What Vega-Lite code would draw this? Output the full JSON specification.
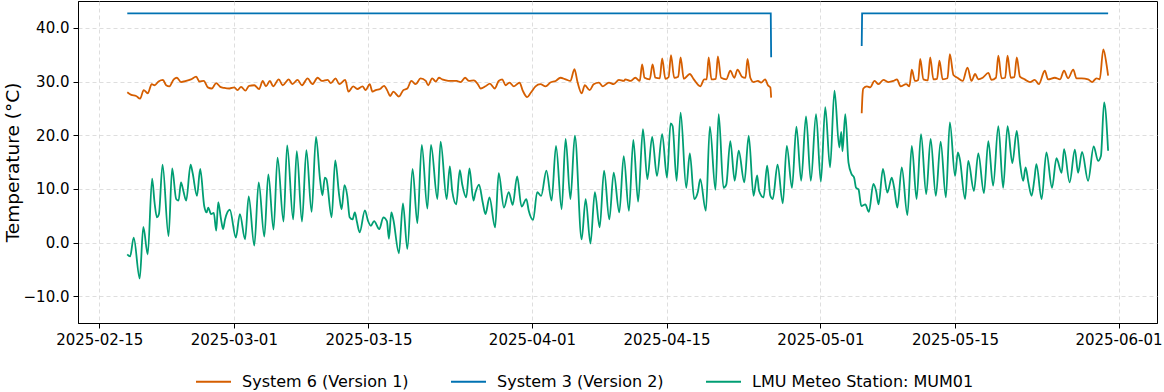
{
  "$schema": "https://vega.github.io/schema/vega-lite/v6.json",
  "width": 1079,
  "height": 322,
  "autosize": {"type": "none"},
  "padding": {"left": 78, "top": 1, "right": 7, "bottom": 69},
  "background": "white",
  "config": {
    "font": "DejaVu Sans",
    "view": {"stroke": "black", "strokeWidth": 1},
    "axis": {
      "domainColor": "black", "tickColor": "black", "labelColor": "black", "titleColor": "black",
      "gridColor": "#d6d6d6", "gridDash": [4, 3], "gridWidth": 0.8, "tickSize": 5,
      "labelFont": "DejaVu Sans", "titleFont": "DejaVu Sans", "titleFontWeight": "normal"
    }
  },
  "datasets": {
    "s6": [
      {"t":"2025-02-17T22:00","v":28.0},{"t":"2025-02-18T08:00","v":27.5},{"t":"2025-02-18T20:00","v":27.3},{"t":"2025-02-19T06:00","v":26.8},
      {"t":"2025-02-19T15:00","v":28.4},{"t":"2025-02-20T01:00","v":27.8},{"t":"2025-02-20T11:00","v":29.5},{"t":"2025-02-20T18:00","v":29.3},
      {"t":"2025-02-21T04:00","v":30.0},{"t":"2025-02-21T15:00","v":30.3},{"t":"2025-02-21T23:00","v":29.3},{"t":"2025-02-22T07:00","v":29.1},
      {"t":"2025-02-22T18:00","v":30.4},{"t":"2025-02-23T02:00","v":30.7},{"t":"2025-02-23T12:00","v":29.9},{"t":"2025-02-24T01:00","v":30.1},
      {"t":"2025-02-24T13:00","v":30.4},{"t":"2025-02-25T02:00","v":30.9},{"t":"2025-02-25T10:00","v":30.0},{"t":"2025-02-25T21:00","v":30.1},
      {"t":"2025-02-26T07:00","v":28.9},{"t":"2025-02-26T17:00","v":28.7},{"t":"2025-02-27T04:00","v":29.7},{"t":"2025-02-27T14:00","v":29.0},
      {"t":"2025-02-28T00:00","v":28.8},{"t":"2025-02-28T13:00","v":28.7},{"t":"2025-03-01T01:00","v":28.9},{"t":"2025-03-01T09:00","v":28.4},
      {"t":"2025-03-01T18:00","v":29.0},{"t":"2025-03-02T05:00","v":28.3},{"t":"2025-03-02T14:00","v":29.2},{"t":"2025-03-03T03:00","v":29.3},
      {"t":"2025-03-03T15:00","v":28.6},{"t":"2025-03-04T00:00","v":30.1},{"t":"2025-03-04T08:00","v":29.1},{"t":"2025-03-04T18:00","v":30.1},
      {"t":"2025-03-05T02:00","v":29.1},{"t":"2025-03-05T16:00","v":30.4},{"t":"2025-03-06T02:00","v":29.3},{"t":"2025-03-06T17:00","v":30.4},
      {"t":"2025-03-07T02:00","v":29.5},{"t":"2025-03-07T15:00","v":30.3},{"t":"2025-03-08T02:00","v":29.3},{"t":"2025-03-08T16:00","v":30.6},
      {"t":"2025-03-09T04:00","v":29.5},{"t":"2025-03-09T17:00","v":30.7},{"t":"2025-03-10T04:00","v":30.1},{"t":"2025-03-10T18:00","v":30.3},
      {"t":"2025-03-11T02:00","v":29.7},{"t":"2025-03-11T14:00","v":30.6},{"t":"2025-03-11T23:00","v":29.5},{"t":"2025-03-12T14:00","v":30.3},
      {"t":"2025-03-12T22:00","v":28.1},{"t":"2025-03-13T10:00","v":29.1},{"t":"2025-03-13T20:00","v":28.6},{"t":"2025-03-14T09:00","v":29.1},
      {"t":"2025-03-14T17:00","v":28.4},{"t":"2025-03-15T03:00","v":29.5},{"t":"2025-03-15T10:00","v":28.1},{"t":"2025-03-15T18:00","v":28.4},
      {"t":"2025-03-16T05:00","v":28.6},{"t":"2025-03-16T15:00","v":29.2},{"t":"2025-03-16T23:00","v":28.3},{"t":"2025-03-17T06:00","v":27.3},
      {"t":"2025-03-17T14:00","v":28.1},{"t":"2025-03-18T04:00","v":27.2},{"t":"2025-03-18T15:00","v":28.4},{"t":"2025-03-19T01:00","v":28.7},
      {"t":"2025-03-19T11:00","v":30.1},{"t":"2025-03-19T22:00","v":29.5},{"t":"2025-03-20T10:00","v":30.6},{"t":"2025-03-20T23:00","v":30.1},
      {"t":"2025-03-21T05:00","v":29.3},{"t":"2025-03-21T15:00","v":30.6},{"t":"2025-03-22T00:00","v":30.0},{"t":"2025-03-22T08:00","v":30.7},
      {"t":"2025-03-22T16:00","v":30.4},{"t":"2025-03-23T01:00","v":30.2},{"t":"2025-03-23T13:00","v":30.1},{"t":"2025-03-24T04:00","v":30.1},
      {"t":"2025-03-24T14:00","v":29.9},{"t":"2025-03-25T01:00","v":30.7},{"t":"2025-03-25T11:00","v":30.1},{"t":"2025-03-25T23:00","v":30.2},
      {"t":"2025-03-26T09:00","v":29.5},{"t":"2025-03-26T16:00","v":28.7},{"t":"2025-03-27T04:00","v":29.1},{"t":"2025-03-27T15:00","v":29.6},
      {"t":"2025-03-28T03:00","v":28.7},{"t":"2025-03-28T13:00","v":30.1},{"t":"2025-03-28T22:00","v":30.4},{"t":"2025-03-29T06:00","v":29.3},
      {"t":"2025-03-29T16:00","v":29.8},{"t":"2025-03-30T03:00","v":29.1},{"t":"2025-03-30T17:00","v":29.8},{"t":"2025-03-31T01:00","v":28.3},
      {"t":"2025-03-31T12:00","v":27.1},{"t":"2025-03-31T21:00","v":27.9},{"t":"2025-04-01T09:00","v":29.1},{"t":"2025-04-01T21:00","v":29.5},
      {"t":"2025-04-02T10:00","v":29.1},{"t":"2025-04-02T22:00","v":29.8},{"t":"2025-04-03T11:00","v":30.1},{"t":"2025-04-03T23:00","v":30.7},
      {"t":"2025-04-04T12:00","v":30.4},{"t":"2025-04-05T00:00","v":30.1},{"t":"2025-04-05T10:00","v":32.3},{"t":"2025-04-05T18:00","v":29.8},
      {"t":"2025-04-06T04:00","v":27.8},{"t":"2025-04-06T12:00","v":29.3},{"t":"2025-04-07T00:00","v":28.4},{"t":"2025-04-07T10:00","v":29.5},
      {"t":"2025-04-07T23:00","v":29.8},{"t":"2025-04-08T09:00","v":29.1},{"t":"2025-04-09T00:00","v":29.8},{"t":"2025-04-09T12:00","v":29.5},
      {"t":"2025-04-10T01:00","v":30.3},{"t":"2025-04-10T13:00","v":30.1},{"t":"2025-04-10T17:00","v":30.4},{"t":"2025-04-11T06:00","v":30.1},
      {"t":"2025-04-11T18:00","v":30.7},{"t":"2025-04-12T05:00","v":30.1},{"t":"2025-04-12T11:00","v":33.2},{"t":"2025-04-12T17:00","v":30.7},
      {"t":"2025-04-13T06:00","v":30.4},{"t":"2025-04-13T13:00","v":33.2},{"t":"2025-04-13T20:00","v":30.7},{"t":"2025-04-14T07:00","v":30.6},
      {"t":"2025-04-14T13:00","v":34.3},{"t":"2025-04-14T21:00","v":30.5},{"t":"2025-04-15T05:00","v":30.8},{"t":"2025-04-15T11:00","v":34.9},
      {"t":"2025-04-15T19:00","v":30.7},{"t":"2025-04-16T05:00","v":30.9},{"t":"2025-04-16T11:00","v":34.5},{"t":"2025-04-16T19:00","v":30.5},
      {"t":"2025-04-17T10:00","v":31.4},{"t":"2025-04-17T20:00","v":30.4},{"t":"2025-04-18T12:00","v":29.1},{"t":"2025-04-18T22:00","v":30.4},
      {"t":"2025-04-19T04:00","v":30.4},{"t":"2025-04-19T09:00","v":34.5},{"t":"2025-04-19T16:00","v":30.4},{"t":"2025-04-20T03:00","v":30.5},
      {"t":"2025-04-20T08:00","v":34.7},{"t":"2025-04-20T16:00","v":30.7},{"t":"2025-04-21T05:00","v":30.4},{"t":"2025-04-21T15:00","v":32.0},
      {"t":"2025-04-22T01:00","v":30.7},{"t":"2025-04-22T09:00","v":32.2},{"t":"2025-04-22T20:00","v":30.9},{"t":"2025-04-23T05:00","v":30.7},
      {"t":"2025-04-23T10:00","v":34.2},{"t":"2025-04-23T17:00","v":30.7},{"t":"2025-04-24T01:00","v":29.9},{"t":"2025-04-24T12:00","v":30.1},
      {"t":"2025-04-24T20:00","v":29.8},{"t":"2025-04-25T06:00","v":30.4},{"t":"2025-04-25T13:00","v":29.3},{"t":"2025-04-25T19:00","v":28.9},
      {"t":"2025-04-25T21:00","v":27.0},{"t":"2025-04-30T00:00","v":null},
      {"t":"2025-05-05T07:00","v":24.1},{"t":"2025-05-05T09:00","v":27.5},{"t":"2025-05-05T11:00","v":28.7},{"t":"2025-05-05T20:00","v":29.1},
      {"t":"2025-05-06T04:00","v":28.9},{"t":"2025-05-06T15:00","v":30.1},{"t":"2025-05-07T01:00","v":29.5},{"t":"2025-05-07T13:00","v":30.3},
      {"t":"2025-05-08T02:00","v":29.9},{"t":"2025-05-08T14:00","v":30.1},{"t":"2025-05-08T23:00","v":30.4},{"t":"2025-05-09T08:00","v":29.1},
      {"t":"2025-05-09T22:00","v":29.5},{"t":"2025-05-10T06:00","v":29.1},{"t":"2025-05-10T12:00","v":32.2},{"t":"2025-05-10T20:00","v":30.1},
      {"t":"2025-05-11T04:00","v":30.3},{"t":"2025-05-11T09:00","v":34.2},{"t":"2025-05-11T17:00","v":30.4},{"t":"2025-05-12T04:00","v":30.2},
      {"t":"2025-05-12T10:00","v":34.5},{"t":"2025-05-12T18:00","v":30.4},{"t":"2025-05-13T03:00","v":30.5},{"t":"2025-05-13T09:00","v":33.9},
      {"t":"2025-05-13T17:00","v":30.4},{"t":"2025-05-14T05:00","v":30.6},{"t":"2025-05-14T11:00","v":35.1},{"t":"2025-05-14T20:00","v":31.2},
      {"t":"2025-05-15T06:00","v":30.7},{"t":"2025-05-15T19:00","v":30.1},{"t":"2025-05-16T07:00","v":32.6},{"t":"2025-05-16T17:00","v":30.1},
      {"t":"2025-05-17T02:00","v":31.4},{"t":"2025-05-17T10:00","v":30.4},{"t":"2025-05-17T21:00","v":30.7},{"t":"2025-05-18T11:00","v":31.6},
      {"t":"2025-05-18T19:00","v":30.3},{"t":"2025-05-19T06:00","v":30.7},{"t":"2025-05-19T12:00","v":34.8},{"t":"2025-05-19T20:00","v":30.6},
      {"t":"2025-05-20T05:00","v":30.7},{"t":"2025-05-20T11:00","v":34.8},{"t":"2025-05-20T19:00","v":30.7},{"t":"2025-05-21T04:00","v":30.8},
      {"t":"2025-05-21T10:00","v":34.5},{"t":"2025-05-21T18:00","v":30.9},{"t":"2025-05-22T06:00","v":30.4},{"t":"2025-05-22T19:00","v":29.9},
      {"t":"2025-05-23T07:00","v":30.3},{"t":"2025-05-23T17:00","v":29.5},{"t":"2025-05-24T08:00","v":32.0},{"t":"2025-05-24T16:00","v":30.4},
      {"t":"2025-05-25T09:00","v":30.7},{"t":"2025-05-25T22:00","v":30.4},{"t":"2025-05-26T08:00","v":32.0},{"t":"2025-05-26T18:00","v":30.6},
      {"t":"2025-05-27T07:00","v":32.2},{"t":"2025-05-27T15:00","v":30.6},{"t":"2025-05-28T04:00","v":30.6},{"t":"2025-05-28T20:00","v":30.4},
      {"t":"2025-05-29T06:00","v":29.9},{"t":"2025-05-29T17:00","v":30.6},{"t":"2025-05-30T01:00","v":30.4},{"t":"2025-05-30T10:00","v":36.0},
      {"t":"2025-05-30T18:00","v":33.2},{"t":"2025-05-30T22:00","v":31.1}
    ],
    "s3": [
      {"t":"2025-02-17T22:00","v":42.7},{"t":"2025-04-25T20:00","v":42.7},{"t":"2025-04-25T21:00","v":34.5},
      {"t":"2025-04-30T00:00","v":null},
      {"t":"2025-05-05T07:00","v":36.6},{"t":"2025-05-05T08:00","v":42.7},{"t":"2025-05-30T22:00","v":42.7}
    ],
    "mum": [
      {"t":"2025-02-17T22:00","v":-2.2},{"t":"2025-02-18T05:00","v":-2.6},{"t":"2025-02-18T14:00","v":0.9},{"t":"2025-02-19T05:00","v":-6.7},
      {"t":"2025-02-19T14:00","v":2.9},{"t":"2025-02-20T01:00","v":-2.2},{"t":"2025-02-20T12:00","v":11.9},{"t":"2025-02-20T18:00","v":7.5},
      {"t":"2025-02-21T00:00","v":4.7},{"t":"2025-02-21T05:00","v":5.3},{"t":"2025-02-21T14:00","v":14.5},{"t":"2025-02-22T05:00","v":1.2},
      {"t":"2025-02-22T14:00","v":13.8},{"t":"2025-02-23T00:00","v":8.1},{"t":"2025-02-23T06:00","v":7.8},{"t":"2025-02-23T12:00","v":11.2},
      {"t":"2025-02-23T18:00","v":9.6},{"t":"2025-02-24T01:00","v":7.8},{"t":"2025-02-24T12:00","v":14.5},{"t":"2025-02-24T17:00","v":13.0},
      {"t":"2025-02-25T04:00","v":8.7},{"t":"2025-02-25T12:00","v":13.7},{"t":"2025-02-25T22:00","v":6.8},{"t":"2025-02-26T04:00","v":5.6},
      {"t":"2025-02-26T08:00","v":6.5},{"t":"2025-02-26T15:00","v":5.3},{"t":"2025-02-26T22:00","v":5.5},{"t":"2025-02-27T04:00","v":2.2},
      {"t":"2025-02-27T09:00","v":7.5},{"t":"2025-02-27T16:00","v":4.3},{"t":"2025-02-27T21:00","v":2.5},{"t":"2025-02-28T02:00","v":4.3},
      {"t":"2025-02-28T14:00","v":6.1},{"t":"2025-03-01T05:00","v":0.9},{"t":"2025-03-01T15:00","v":5.3},{"t":"2025-03-02T04:00","v":0.6},
      {"t":"2025-03-02T13:00","v":8.6},{"t":"2025-03-03T03:00","v":-0.6},{"t":"2025-03-03T14:00","v":11.2},{"t":"2025-03-04T04:00","v":1.1},
      {"t":"2025-03-04T14:00","v":12.7},{"t":"2025-03-05T03:00","v":2.4},{"t":"2025-03-05T13:00","v":15.8},{"t":"2025-03-06T04:00","v":3.9},
      {"t":"2025-03-06T13:00","v":18.1},{"t":"2025-03-07T04:00","v":4.3},{"t":"2025-03-07T13:00","v":17.0},{"t":"2025-03-08T02:00","v":3.9},
      {"t":"2025-03-08T13:00","v":17.2},{"t":"2025-03-09T02:00","v":5.7},{"t":"2025-03-09T13:00","v":19.7},{"t":"2025-03-09T23:00","v":11.8},
      {"t":"2025-03-10T05:00","v":8.8},{"t":"2025-03-10T11:00","v":12.1},{"t":"2025-03-10T15:00","v":11.8},{"t":"2025-03-11T04:00","v":4.7},
      {"t":"2025-03-11T13:00","v":15.3},{"t":"2025-03-11T23:00","v":8.7},{"t":"2025-03-12T05:00","v":6.2},{"t":"2025-03-12T12:00","v":10.7},
      {"t":"2025-03-12T19:00","v":8.7},{"t":"2025-03-13T01:00","v":4.7},{"t":"2025-03-13T08:00","v":4.3},{"t":"2025-03-13T14:00","v":5.6},
      {"t":"2025-03-13T19:00","v":3.9},{"t":"2025-03-14T02:00","v":1.9},{"t":"2025-03-14T15:00","v":6.0},{"t":"2025-03-14T23:00","v":4.0},
      {"t":"2025-03-15T06:00","v":3.1},{"t":"2025-03-15T14:00","v":4.0},{"t":"2025-03-16T03:00","v":2.5},{"t":"2025-03-16T13:00","v":4.7},
      {"t":"2025-03-16T22:00","v":4.0},{"t":"2025-03-17T03:00","v":0.7},{"t":"2025-03-17T09:00","v":5.6},{"t":"2025-03-17T14:00","v":4.3},
      {"t":"2025-03-18T04:00","v":-2.0},{"t":"2025-03-18T14:00","v":7.3},{"t":"2025-03-19T01:00","v":-1.2},{"t":"2025-03-19T14:00","v":13.7},
      {"t":"2025-03-20T02:00","v":3.6},{"t":"2025-03-20T13:00","v":18.2},{"t":"2025-03-21T03:00","v":6.3},{"t":"2025-03-21T12:00","v":18.2},
      {"t":"2025-03-22T04:00","v":8.1},{"t":"2025-03-22T12:00","v":18.8},{"t":"2025-03-23T03:00","v":8.1},{"t":"2025-03-23T11:00","v":14.2},
      {"t":"2025-03-23T17:00","v":9.6},{"t":"2025-03-24T03:00","v":7.1},{"t":"2025-03-24T12:00","v":13.5},{"t":"2025-03-24T18:00","v":10.8},
      {"t":"2025-03-25T04:00","v":8.4},{"t":"2025-03-25T12:00","v":13.8},{"t":"2025-03-25T22:00","v":7.8},{"t":"2025-03-26T03:00","v":9.3},
      {"t":"2025-03-26T12:00","v":10.8},{"t":"2025-03-26T21:00","v":7.5},{"t":"2025-03-27T04:00","v":5.3},{"t":"2025-03-27T14:00","v":8.4},
      {"t":"2025-03-28T04:00","v":2.8},{"t":"2025-03-28T13:00","v":12.9},{"t":"2025-03-29T02:00","v":6.5},{"t":"2025-03-29T14:00","v":9.4},
      {"t":"2025-03-30T00:00","v":7.0},{"t":"2025-03-30T11:00","v":12.3},{"t":"2025-03-30T22:00","v":6.7},{"t":"2025-03-31T10:00","v":8.1},
      {"t":"2025-03-31T16:00","v":5.9},{"t":"2025-04-01T03:00","v":4.2},{"t":"2025-04-01T13:00","v":9.4},{"t":"2025-04-01T23:00","v":8.7},
      {"t":"2025-04-02T12:00","v":13.4},{"t":"2025-04-03T01:00","v":7.8},{"t":"2025-04-03T12:00","v":18.0},{"t":"2025-04-04T02:00","v":6.2},
      {"t":"2025-04-04T12:00","v":19.3},{"t":"2025-04-05T00:00","v":8.1},{"t":"2025-04-05T11:00","v":19.9},{"t":"2025-04-06T04:00","v":0.6},
      {"t":"2025-04-06T14:00","v":8.1},{"t":"2025-04-07T02:00","v":-0.2},{"t":"2025-04-07T13:00","v":9.4},{"t":"2025-04-08T01:00","v":2.8},
      {"t":"2025-04-08T12:00","v":13.4},{"t":"2025-04-09T01:00","v":4.3},{"t":"2025-04-09T12:00","v":13.0},{"t":"2025-04-10T02:00","v":5.6},
      {"t":"2025-04-10T13:00","v":16.1},{"t":"2025-04-11T02:00","v":5.9},{"t":"2025-04-11T13:00","v":19.1},{"t":"2025-04-12T01:00","v":7.6},
      {"t":"2025-04-12T13:00","v":21.1},{"t":"2025-04-13T00:00","v":11.8},{"t":"2025-04-13T12:00","v":19.7},{"t":"2025-04-14T00:00","v":12.4},
      {"t":"2025-04-14T13:00","v":20.2},{"t":"2025-04-15T01:00","v":12.1},{"t":"2025-04-15T10:00","v":22.2},{"t":"2025-04-15T15:00","v":21.7},
      {"t":"2025-04-16T01:00","v":11.5},{"t":"2025-04-16T11:00","v":24.2},{"t":"2025-04-17T01:00","v":10.2},{"t":"2025-04-17T10:00","v":16.6},
      {"t":"2025-04-17T21:00","v":8.1},{"t":"2025-04-18T06:00","v":9.4},{"t":"2025-04-18T12:00","v":11.8},{"t":"2025-04-19T02:00","v":5.9},
      {"t":"2025-04-19T12:00","v":21.6},{"t":"2025-04-20T02:00","v":9.8},{"t":"2025-04-20T10:00","v":23.9},{"t":"2025-04-20T22:00","v":10.2},
      {"t":"2025-04-21T05:00","v":10.8},{"t":"2025-04-21T15:00","v":18.9},{"t":"2025-04-22T02:00","v":11.5},{"t":"2025-04-22T12:00","v":17.1},
      {"t":"2025-04-23T02:00","v":11.2},{"t":"2025-04-23T13:00","v":19.9},{"t":"2025-04-24T01:00","v":8.7},{"t":"2025-04-24T10:00","v":12.5},
      {"t":"2025-04-24T15:00","v":9.6},{"t":"2025-04-25T02:00","v":8.4},{"t":"2025-04-25T11:00","v":14.3},{"t":"2025-04-25T19:00","v":8.7},
      {"t":"2025-04-26T01:00","v":8.1},{"t":"2025-04-26T13:00","v":14.5},{"t":"2025-04-27T02:00","v":7.3},{"t":"2025-04-27T12:00","v":18.0},
      {"t":"2025-04-28T01:00","v":10.2},{"t":"2025-04-28T12:00","v":21.6},{"t":"2025-04-29T00:00","v":11.5},{"t":"2025-04-29T12:00","v":23.5},
      {"t":"2025-04-30T00:00","v":11.5},{"t":"2025-04-30T13:00","v":23.9},{"t":"2025-05-01T01:00","v":11.3},{"t":"2025-05-01T12:00","v":25.2},
      {"t":"2025-05-02T00:00","v":14.0},{"t":"2025-05-02T11:00","v":28.3},{"t":"2025-05-02T23:00","v":17.7},{"t":"2025-05-03T04:00","v":20.6},
      {"t":"2025-05-03T07:00","v":17.0},{"t":"2025-05-03T14:00","v":23.9},{"t":"2025-05-03T22:00","v":14.9},{"t":"2025-05-04T06:00","v":12.7},
      {"t":"2025-05-04T12:00","v":12.1},{"t":"2025-05-04T17:00","v":10.2},{"t":"2025-05-04T23:00","v":9.9},{"t":"2025-05-05T06:00","v":6.8},
      {"t":"2025-05-05T16:00","v":7.1},{"t":"2025-05-06T01:00","v":5.7},{"t":"2025-05-06T12:00","v":10.9},{"t":"2025-05-06T19:00","v":9.6},
      {"t":"2025-05-07T01:00","v":7.1},{"t":"2025-05-07T12:00","v":13.7},{"t":"2025-05-07T23:00","v":9.3},{"t":"2025-05-08T10:00","v":12.1},
      {"t":"2025-05-08T16:00","v":10.2},{"t":"2025-05-09T00:00","v":6.5},{"t":"2025-05-09T11:00","v":14.0},{"t":"2025-05-10T01:00","v":5.1},
      {"t":"2025-05-10T12:00","v":18.0},{"t":"2025-05-11T00:00","v":8.1},{"t":"2025-05-11T11:00","v":20.2},{"t":"2025-05-12T00:00","v":9.0},
      {"t":"2025-05-12T11:00","v":19.3},{"t":"2025-05-13T00:00","v":8.7},{"t":"2025-05-13T12:00","v":18.8},{"t":"2025-05-14T01:00","v":8.4},
      {"t":"2025-05-14T11:00","v":22.4},{"t":"2025-05-15T00:00","v":12.4},{"t":"2025-05-15T07:00","v":16.8},{"t":"2025-05-15T12:00","v":15.5},
      {"t":"2025-05-16T01:00","v":8.1},{"t":"2025-05-16T09:00","v":15.2},{"t":"2025-05-16T23:00","v":9.6},{"t":"2025-05-17T10:00","v":16.6},
      {"t":"2025-05-18T00:00","v":9.2},{"t":"2025-05-18T11:00","v":18.9},{"t":"2025-05-18T23:00","v":10.6},{"t":"2025-05-19T12:00","v":21.7},
      {"t":"2025-05-20T00:00","v":10.2},{"t":"2025-05-20T11:00","v":21.7},{"t":"2025-05-20T23:00","v":14.8},{"t":"2025-05-21T10:00","v":20.8},
      {"t":"2025-05-21T18:00","v":14.9},{"t":"2025-05-22T02:00","v":11.5},{"t":"2025-05-22T08:00","v":14.0},{"t":"2025-05-22T15:00","v":11.2},
      {"t":"2025-05-22T23:00","v":8.7},{"t":"2025-05-23T06:00","v":11.8},{"t":"2025-05-23T11:00","v":14.6},{"t":"2025-05-24T00:00","v":8.1},
      {"t":"2025-05-24T12:00","v":16.8},{"t":"2025-05-25T02:00","v":10.2},{"t":"2025-05-25T13:00","v":15.7},{"t":"2025-05-26T02:00","v":13.0},
      {"t":"2025-05-26T08:00","v":17.4},{"t":"2025-05-26T22:00","v":11.2},{"t":"2025-05-27T11:00","v":17.3},{"t":"2025-05-27T19:00","v":13.0},
      {"t":"2025-05-28T05:00","v":16.9},{"t":"2025-05-28T20:00","v":11.5},{"t":"2025-05-29T10:00","v":17.9},{"t":"2025-05-29T21:00","v":15.2},
      {"t":"2025-05-30T04:00","v":16.1},{"t":"2025-05-30T12:00","v":26.1},{"t":"2025-05-30T22:00","v":17.1}
    ]
  },
  "encoding": {
    "x": {
      "field": "t", "type": "temporal",
      "scale": {"domain": [{"year": 2025, "month": 2, "date": 12, "hours": 19}, {"year": 2025, "month": 6, "date": 5, "hours": 0}]},
      "axis": {
        "title": null, "format": "%Y-%m-%d", "labelFontSize": 15, "labelPadding": 4, "labelAngle": 0,
        "values": [
          {"year": 2025, "month": 2, "date": 15}, {"year": 2025, "month": 3, "date": 1}, {"year": 2025, "month": 3, "date": 15},
          {"year": 2025, "month": 4, "date": 1}, {"year": 2025, "month": 4, "date": 15}, {"year": 2025, "month": 5, "date": 1},
          {"year": 2025, "month": 5, "date": 15}, {"year": 2025, "month": 6, "date": 1}
        ]
      }
    },
    "y": {
      "field": "v", "type": "quantitative",
      "scale": {"domain": [-15, 45], "nice": false, "zero": false},
      "axis": {"title": "Temperature (°C)", "values": [-10, 0, 10, 20, 30, 40], "format": ".1f", "labelFontSize": 15, "titleFontSize": 18.5, "labelPadding": 4, "titlePadding": 1}
    }
  },
  "layer": [
    {
      "data": {"name": "s6"},
      "mark": {"type": "line", "strokeWidth": 1.8, "interpolate": "monotone"},
      "encoding": {
        "color": {
          "datum": "System 6 (Version 1)", "type": "nominal",
          "scale": {"domain": ["System 6 (Version 1)", "System 3 (Version 2)", "LMU Meteo Station: MUM01"], "range": ["#D55E00", "#0072B2", "#009E73"]},
          "legend": {
            "orient": "none", "legendX": 117, "legendY": 362, "direction": "horizontal", "title": null,
            "symbolType": "stroke", "symbolSize": 1225, "symbolStrokeWidth": 2, "labelFontSize": 16,
            "labelOffset": 10, "columnPadding": 38, "labelLimit": 400, "labelColor": "black"
          }
        }
      }
    },
    {
      "data": {"name": "s3"},
      "mark": {"type": "line", "strokeWidth": 1.8},
      "encoding": {"color": {"datum": "System 3 (Version 2)", "type": "nominal"}}
    },
    {
      "data": {"name": "mum"},
      "mark": {"type": "line", "strokeWidth": 1.8, "interpolate": "monotone"},
      "encoding": {"color": {"datum": "LMU Meteo Station: MUM01", "type": "nominal"}}
    }
  ]
}
